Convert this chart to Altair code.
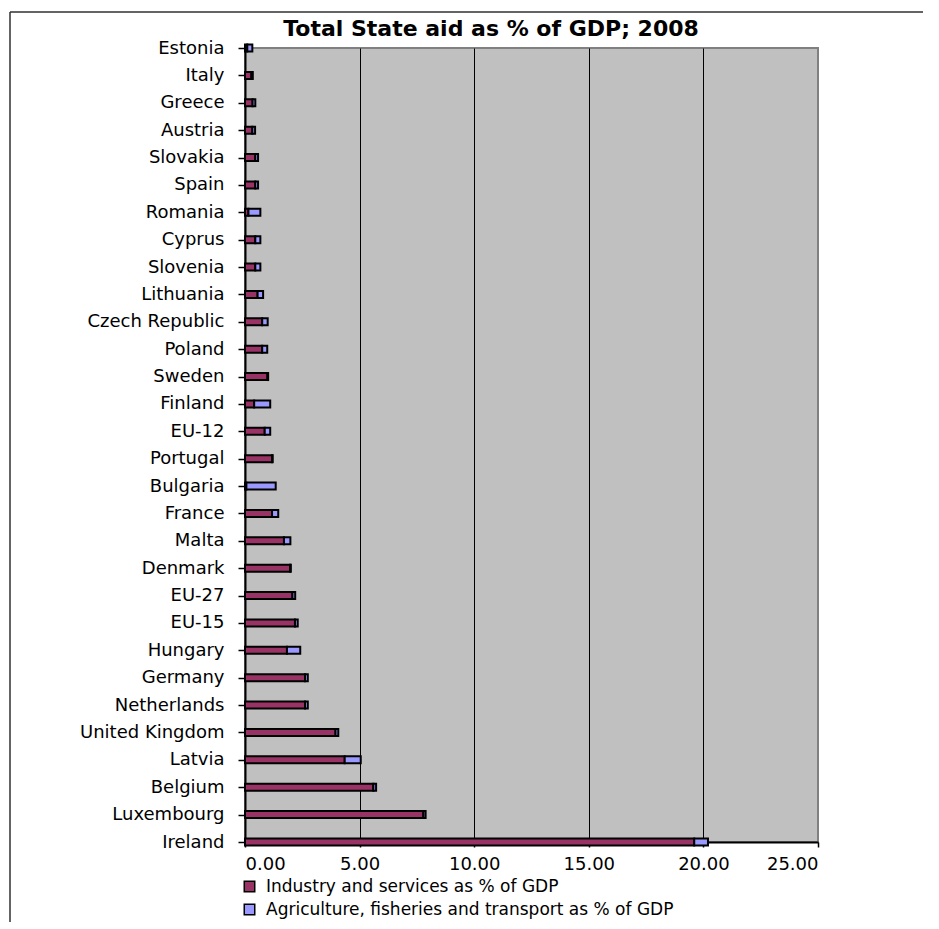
import altair as alt
import pandas as pd

chart_title = "Total State aid as % of GDP; 2008"
categories = ["Estonia", "Italy", "Greece", "Austria", "Slovakia", "Spain", "Romania",
              "Cyprus", "Slovenia", "Lithuania", "Czech Republic", "Poland", "Sweden",
              "Finland", "EU-12", "Portugal", "Bulgaria", "France", "Malta", "Denmark",
              "EU-27", "EU-15", "Hungary", "Germany", "Netherlands", "United Kingdom",
              "Latvia", "Belgium", "Luxembourg", "Ireland"]
industry = [0.10, 0.28, 0.33, 0.32, 0.45, 0.45, 0.15, 0.45, 0.45, 0.55, 0.75, 0.75, 0.98,
            0.40, 0.86, 1.18, 0.06, 1.18, 1.70, 1.97, 2.07, 2.18, 1.83, 2.62, 2.62, 3.95,
            4.35, 5.60, 7.78, 19.60]
agriculture = [0.22, 0.06, 0.12, 0.12, 0.12, 0.12, 0.52, 0.22, 0.22, 0.24, 0.24, 0.22, 0.03,
               0.70, 0.24, 0.03, 1.28, 0.27, 0.28, 0.03, 0.12, 0.12, 0.58, 0.12, 0.12, 0.12,
               0.70, 0.12, 0.10, 0.60]
series_names = ["Industry and services as % of GDP",
                "Agriculture, fisheries and transport as % of GDP"]
series_colors = ["#993366", "#9999FF"]
x_ticks = [0, 5, 10, 15, 20, 25]

rows = []
for c, a, b in zip(categories, industry, agriculture):
    rows.append({"country": c, "series": series_names[0], "value": a, "ord": 0})
    rows.append({"country": c, "series": series_names[1], "value": b, "ord": 1})
df = pd.DataFrame(rows)

FONT = "DejaVu Sans"

bars = alt.Chart(df).mark_bar(size=7, stroke="black", strokeWidth=2).encode(
    x=alt.X("value:Q", stack="zero",
            scale=alt.Scale(domain=[0, 25], nice=False),
            axis=alt.Axis(values=x_ticks, format=".2f", title=None, grid=True,
                          gridColor={"condition": {"test": "datum.value >= 25", "value": "#808080"},
                                     "value": "black"},
                          gridWidth=1, domainColor="black", domainWidth=2,
                          tickColor="black", tickSize=5, tickWidth=1.5,
                          labelFont=FONT, labelFontSize=18, labelColor="black",
                          labelPadding=8)),
    y=alt.Y("country:N", sort=categories,
            scale=alt.Scale(type="point", padding=0),
            axis=alt.Axis(title=None, grid=False, domainColor="black", domainWidth=2,
                          tickColor="black", tickSize=7, tickWidth=1.5,
                          labelFont=FONT, labelFontSize=18, labelColor="black",
                          labelPadding=14, labelLimit=300)),
    color=alt.Color("series:N",
                    scale=alt.Scale(domain=series_names, range=series_colors),
                    legend=alt.Legend(orient="none", legendX=-4, legendY=830, title=None,
                                      symbolType="square", symbolSize=110,
                                      symbolStrokeColor="black", symbolStrokeWidth=1.5,
                                      labelFont=FONT, labelFontSize=17, labelColor="black",
                                      labelLimit=0, rowPadding=5, labelOffset=8)),
    order=alt.Order("ord:Q"),
)

frame_df = pd.DataFrame({"k": [0]})
frame_v = alt.Chart(frame_df).mark_rule(color="#303030", strokeWidth=1.5).encode(
    x=alt.value(-235), y=alt.value(-36), y2=alt.value(900))
frame_h = alt.Chart(frame_df).mark_rule(color="#303030", strokeWidth=1.5).encode(
    x=alt.value(-235), x2=alt.value(700), y=alt.value(-36))

title_text = alt.Chart(pd.DataFrame({"t": [chart_title]})).mark_text(
    font=FONT, fontSize=22, fontWeight="bold", color="black",
    align="center", baseline="alphabetic").encode(
    text="t:N", x=alt.value(246), y=alt.value(-12))

chart = alt.layer(bars, frame_v, frame_h, title_text).properties(
    width=573, height=794,
    autosize=alt.AutoSizeParams(type="none"),
    padding={"left": 237, "top": 40, "right": 105, "bottom": 80},
).configure_view(fill="#C0C0C0", stroke="#808080", strokeWidth=2)

chart.save("out.html", embed_options={"renderer": "svg", "actions": False})
